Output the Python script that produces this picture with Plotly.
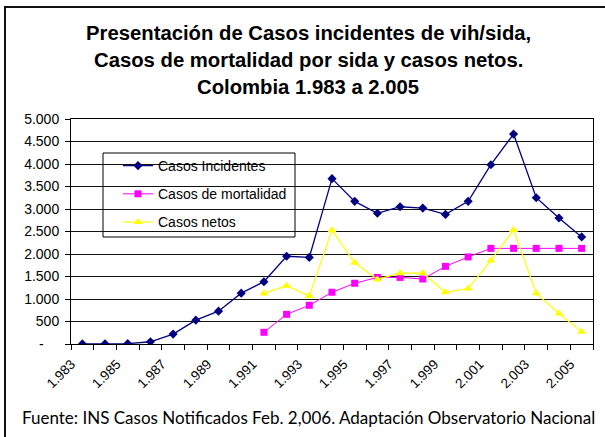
import plotly.graph_objects as go

years = list(range(1983, 2006))
incidentes = [2, 3, 8, 50, 220, 530, 730, 1130, 1385, 1950, 1925, 3675, 3170, 2905,
              3050, 3020, 2880, 3170, 3985, 4665, 3250, 2800, 2380]
mortalidad = [None] * 8 + [260, 660, 860, 1150, 1350, 1480, 1480, 1445, 1725, 1935,
                           2125, 2125, 2125, 2125, 2125]
netos = [None] * 8 + [1125, 1295, 1065, 2530, 1805, 1435, 1575, 1578, 1150, 1232,
                      1855, 2535, 1126, 678, 270]

x_label_years = list(range(1983, 2006, 2))
x_label_text = ["1.983", "1.985", "1.987", "1.989", "1.991", "1.993", "1.995",
                "1.997", "1.999", "2.001", "2.003", "2.005"]
y_tick_vals = [0, 500, 1000, 1500, 2000, 2500, 3000, 3500, 4000, 4500, 5000]
y_tick_text = ["-\u00a0\u00a0\u00a0\u00a0", "500", "1.000", "1.500", "2.000", "2.500",
               "3.000", "3.500", "4.000", "4.500", "5.000"]

title_lines = ["Presentación de Casos incidentes de vih/sida,",
               "Casos de mortalidad por sida y casos netos.",
               "Colombia 1.983 a 2.005"]
footer = "Fuente: INS Casos Notificados Feb. 2,006. Adaptación Observatorio Nacional"

FONT = "Arial, Liberation Sans, sans-serif"

fig = go.Figure()
fig.add_trace(go.Scatter(
    x=years, y=incidentes, name="Casos Incidentes", mode="lines+markers",
    line=dict(color="#000080", width=1.3),
    marker=dict(symbol="diamond", size=7, color="#000080"),
    legendgroup="a"))
fig.add_trace(go.Scatter(
    x=years, y=mortalidad, name="Casos de mortalidad", mode="lines+markers",
    line=dict(color="#FF00FF", width=1),
    marker=dict(symbol="square", size=7, color="#FF00FF"),
    legendgroup="b"))
fig.add_trace(go.Scatter(
    x=years, y=netos, name="Casos netos", mode="lines+markers",
    line=dict(color="#FFFF00", width=1.2),
    marker=dict(symbol="triangle-up", size=8, color="#FFFF00"),
    legendgroup="c"))

L, R, T, B = 71, 12, 119, 93
W, H = 605, 437
PW, PH = W - L - R, H - T - B


def px(xp):
    return (xp - L) / PW


def py(yp):
    return (H - B - yp) / PH


annotations = []
for line, yc in zip(title_lines, [33, 60, 87]):
    annotations.append(dict(
        text=line, xref="paper", yref="paper", x=px(308), y=py(yc),
        xanchor="center", yanchor="middle", showarrow=False,
        font=dict(family=FONT, size=20.3, color="black", weight="bold")))
annotations.append(dict(
    text=footer, xref="paper", yref="paper", x=px(20), y=py(417),
    xanchor="left", yanchor="middle", showarrow=False,
    font=dict(family="Lato, sans-serif", size=17, color="black")))

shapes = [
    dict(type="rect", xref="paper", yref="paper",
         x0=px(103), x1=px(295), y0=py(237), y1=py(153),
         line=dict(color="black", width=1), fillcolor="white", layer="between"),
    dict(type="rect", xref="paper", yref="paper",
         x0=px(5), x1=px(640), y0=py(470), y1=py(7),
         line=dict(color="#111111", width=2), fillcolor="rgba(0,0,0,0)", layer="above"),
]

fig.update_layout(
    width=W, height=H,
    margin=dict(l=L, r=R, t=T, b=B, pad=0),
    paper_bgcolor="white", plot_bgcolor="white",
    font=dict(family=FONT, size=14, color="black"),
    showlegend=True,
    legend=dict(
        x=px(118), y=py(150), xanchor="left", yanchor="top",
        bgcolor="rgba(0,0,0,0)", borderwidth=0,
        font=dict(family=FONT, size=14, color="black"),
        traceorder="grouped", tracegroupgap=7),
    annotations=annotations,
    shapes=shapes,
    xaxis=dict(
        type="linear", range=[1982.5, 2005.5],
        tickmode="array", tickvals=x_label_years, ticktext=x_label_text,
        tickangle=-45, ticks="", showgrid=False, zeroline=False,
        showline=True, linecolor="black", linewidth=1, mirror=True,
        tickfont=dict(family=FONT, size=13.5, color="black"),
        ticklabelshift=-11, ticklabelstandoff=6,
        minor=dict(tick0=1982.5, dtick=1, ticks="outside", ticklen=5,
                   tickcolor="black", tickwidth=1, showgrid=False)),
    yaxis=dict(
        range=[0, 5000], tickmode="array", tickvals=y_tick_vals, ticktext=y_tick_text,
        ticks="outside", ticklen=5, tickcolor="black",
        showgrid=True, gridcolor="#111111", gridwidth=1, zeroline=False,
        showline=True, linecolor="black", linewidth=1, mirror=True,
        ticklabelstandoff=3,
        tickfont=dict(family=FONT, size=14, color="black")),
)

fig.write_html("out.html", config={"displayModeBar": False},
               post_script="document.body.style.margin='0';")
